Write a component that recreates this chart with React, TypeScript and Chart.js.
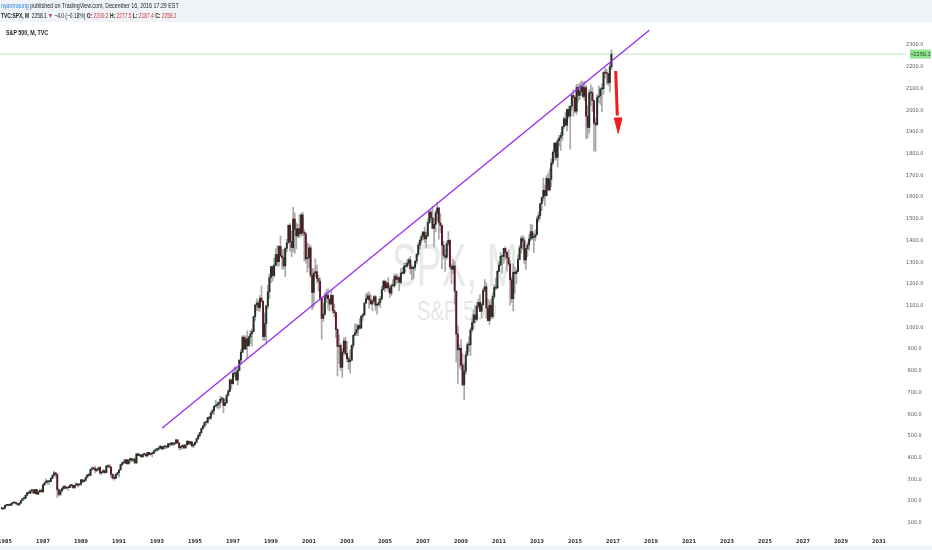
import React, { useEffect, useRef } from "react";
import { Chart, registerables } from "chart.js";

Chart.register(...registerables);

// ---- Data: S&P 500 monthly candles, Nov 1984 .. Dec 2016 ----
const startYear = 1984;
const startMonth = 10; // 0-based: November
const firstOpen = 166.1;

const closes: number[] = [
  163.6, 167.2,
  179.6, 181.2, 180.7, 179.8, 189.6, 191.9, 190.9, 188.6, 182.1, 189.8, 202.2, 211.3,
  211.8, 226.9, 238.9, 235.5, 247.4, 250.8, 236.1, 252.9, 231.3, 244.0, 249.2, 242.2,
  274.1, 284.2, 291.7, 288.4, 290.1, 304.0, 318.7, 329.8, 321.8, 251.8, 230.3, 247.1,
  257.1, 267.8, 258.9, 261.3, 262.2, 273.5, 272.0, 261.5, 271.9, 279.0, 273.7, 277.7,
  297.5, 288.9, 294.9, 309.6, 320.5, 318.0, 346.1, 351.5, 349.2, 340.4, 346.0, 353.4,
  329.1, 331.9, 339.9, 330.8, 361.2, 358.0, 356.2, 322.6, 306.1, 304.0, 322.2, 330.2,
  343.9, 367.1, 375.2, 375.3, 389.8, 371.2, 387.8, 395.4, 387.9, 392.5, 375.2, 417.1,
  408.8, 412.7, 403.7, 415.0, 415.4, 408.1, 424.2, 414.0, 417.8, 418.7, 431.4, 435.7,
  438.8, 443.4, 451.7, 440.2, 450.2, 450.5, 448.1, 463.6, 458.9, 467.8, 461.8, 466.5,
  481.6, 467.1, 445.8, 450.9, 456.5, 444.3, 458.3, 475.5, 462.7, 472.4, 453.7, 459.3,
  470.4, 487.4, 500.7, 514.7, 533.4, 544.8, 562.1, 561.9, 584.4, 581.5, 605.4, 615.9,
  636.0, 640.4, 645.5, 654.2, 669.1, 670.6, 640.0, 652.0, 687.3, 705.3, 757.0, 740.7,
  786.2, 790.8, 757.1, 801.3, 848.3, 885.1, 954.3, 899.5, 947.3, 914.6, 955.4, 970.4,
  980.3, 1049.3, 1101.8, 1111.8, 1090.8, 1133.8, 1120.7, 957.3, 1017.0, 1098.7, 1163.6, 1229.2,
  1279.6, 1238.3, 1286.4, 1335.2, 1301.8, 1372.7, 1328.7, 1320.4, 1282.7, 1362.9, 1389.0, 1469.3,
  1394.5, 1366.4, 1498.6, 1452.4, 1420.6, 1454.6, 1430.8, 1517.7, 1436.5, 1429.4, 1315.2, 1320.3,
  1366.0, 1239.9, 1160.3, 1249.5, 1255.8, 1224.4, 1211.2, 1133.6, 1040.9, 1059.8, 1139.5, 1148.1,
  1130.2, 1106.7, 1147.4, 1076.9, 1067.1, 989.8, 911.6, 916.1, 815.3, 885.8, 936.3, 879.8,
  855.7, 841.2, 848.2, 916.9, 963.6, 974.5, 990.3, 1008.0, 996.0, 1050.7, 1058.2, 1111.9,
  1131.1, 1144.9, 1126.2, 1107.3, 1120.7, 1140.8, 1101.7, 1104.2, 1114.6, 1130.2, 1173.8, 1211.9,
  1181.3, 1203.6, 1180.6, 1156.9, 1191.5, 1191.3, 1234.2, 1220.3, 1228.8, 1207.0, 1249.5, 1248.3,
  1280.1, 1280.7, 1294.9, 1310.6, 1270.1, 1270.2, 1276.7, 1303.8, 1335.9, 1377.9, 1400.6, 1418.3,
  1438.2, 1406.8, 1420.9, 1482.4, 1530.6, 1503.4, 1455.3, 1474.0, 1526.8, 1549.4, 1481.1, 1468.4,
  1378.6, 1330.6, 1322.7, 1385.6, 1400.4, 1280.0, 1267.4, 1282.8, 1166.4, 968.8, 896.2, 903.3,
  825.9, 735.1, 797.9, 872.8, 919.1, 919.3, 987.5, 1020.6, 1057.1, 1036.2, 1095.6, 1115.1,
  1073.9, 1104.5, 1169.4, 1186.7, 1089.4, 1030.7, 1101.6, 1049.3, 1141.2, 1183.3, 1180.6, 1257.6,
  1286.1, 1327.2, 1325.8, 1363.6, 1345.2, 1320.6, 1292.3, 1218.9, 1131.4, 1253.3, 1247.0, 1257.6,
  1312.4, 1365.7, 1408.5, 1397.9, 1310.3, 1362.2, 1379.3, 1406.6, 1440.7, 1412.2, 1416.2, 1426.2,
  1498.1, 1514.7, 1569.2, 1597.6, 1630.7, 1606.3, 1685.7, 1633.0, 1681.6, 1756.5, 1805.8, 1848.4,
  1782.6, 1859.5, 1872.3, 1884.0, 1923.6, 1960.2, 1930.7, 2003.4, 1972.3, 2018.1, 2067.6, 2058.9,
  1995.0, 2104.5, 2067.9, 2085.5, 2107.4, 2063.1, 2103.8, 1972.2, 1920.0, 2079.4, 2080.4, 2043.9,
  1940.2, 1932.2, 2059.7, 2065.3, 2097.0, 2098.9, 2173.6, 2171.0, 2168.3, 2126.2, 2198.8, 2258.1,
];

const highs: number[] = [
  170.4, 168.6,
  180.3, 183.9, 184.1, 183.6, 190.0, 192.5, 197.0, 192.7, 189.1, 190.6, 202.4, 212.0,
  213.0, 228.3, 240.1, 244.7, 249.2, 251.8, 253.2, 254.0, 254.1, 244.0, 254.9, 254.8,
  276.9, 285.5, 301.9, 294.0, 296.2, 309.6, 320.0, 337.9, 330.0, 328.0, 255.8, 252.0,
  262.0, 268.5, 271.1, 263.5, 263.5, 274.0, 274.0, 274.0, 272.5, 283.7, 279.5, 280.4,
  299.5, 300.2, 300.0, 310.5, 323.1, 328.0, 347.0, 357.0, 354.0, 360.4, 347.0, 354.0,
  359.7, 335.6, 344.5, 342.0, 363.0, 368.0, 369.8, 357.0, 324.8, 319.0, 324.1, 330.7,
  344.0, 370.5, 380.1, 390.5, 390.9, 391.0, 391.0, 395.6, 396.4, 395.0, 398.2, 418.3,
  420.8, 417.0, 413.5, 416.0, 421.4, 416.0, 424.8, 425.2, 422.0, 422.0, 431.5, 441.3,
  442.5, 449.6, 456.3, 452.1, 453.3, 453.0, 452.6, 464.2, 463.9, 470.2, 468.6, 471.0,
  482.9, 482.0, 468.0, 453.1, 457.6, 459.3, 459.3, 477.0, 476.0, 473.8, 474.6, 466.1,
  471.4, 489.2, 507.0, 515.1, 533.7, 551.1, 564.0, 565.2, 586.0, 590.6, 608.9, 622.9,
  638.5, 664.2, 656.9, 656.0, 681.1, 679.0, 676.0, 670.8, 690.9, 714.1, 762.3, 762.1,
  794.7, 817.7, 814.9, 812.9, 852.0, 898.7, 961.0, 961.2, 960.5, 983.1, 960.0, 986.3,
  992.7, 1050.7, 1105.7, 1130.5, 1123.1, 1146.1, 1190.6, 1121.0, 1066.1, 1102.0, 1193.0, 1244.9,
  1280.4, 1280.9, 1318.0, 1362.8, 1375.9, 1375.9, 1420.3, 1360.7, 1358.0, 1367.0, 1404.6, 1473.1,
  1478.0, 1444.6, 1552.9, 1527.2, 1481.5, 1474.6, 1517.3, 1525.2, 1530.1, 1448.9, 1438.5, 1389.0,
  1383.4, 1376.4, 1270.0, 1269.3, 1316.0, 1286.6, 1239.8, 1226.3, 1135.5, 1110.6, 1160.3, 1173.0,
  1176.6, 1130.9, 1173.0, 1147.8, 1106.6, 1070.8, 993.6, 965.0, 924.0, 900.7, 951.6, 954.3,
  935.1, 864.6, 895.9, 919.7, 965.4, 1015.3, 1015.4, 1011.0, 1039.6, 1053.8, 1063.7, 1112.6,
  1155.4, 1159.0, 1163.2, 1150.6, 1127.7, 1146.3, 1146.2, 1109.7, 1131.5, 1142.1, 1188.5, 1217.3,
  1217.9, 1212.4, 1229.1, 1191.9, 1199.6, 1219.6, 1245.2, 1245.9, 1243.1, 1233.3, 1270.6, 1275.8,
  1294.9, 1297.6, 1310.9, 1318.2, 1326.7, 1286.1, 1280.4, 1306.7, 1340.3, 1389.5, 1407.9, 1431.8,
  1441.6, 1461.6, 1438.9, 1498.0, 1535.6, 1540.6, 1555.9, 1503.9, 1538.7, 1576.1, 1552.8, 1523.6,
  1471.8, 1396.0, 1359.7, 1397.0, 1440.2, 1404.1, 1292.2, 1313.2, 1303.0, 1167.0, 1007.5, 918.9,
  943.9, 877.9, 833.0, 888.7, 930.2, 956.2, 996.7, 1039.5, 1080.2, 1101.4, 1113.7, 1130.4,
  1150.5, 1112.4, 1180.2, 1219.8, 1205.1, 1131.2, 1121.0, 1129.2, 1157.2, 1196.1, 1227.1, 1262.6,
  1302.7, 1344.1, 1332.3, 1364.6, 1370.6, 1347.0, 1356.5, 1307.4, 1229.3, 1292.7, 1277.6, 1267.1,
  1333.5, 1378.0, 1419.2, 1422.4, 1415.3, 1363.5, 1391.7, 1426.7, 1474.5, 1471.0, 1434.3, 1448.0,
  1509.9, 1530.9, 1570.3, 1598.0, 1687.2, 1654.2, 1698.8, 1709.7, 1729.9, 1775.2, 1813.6, 1849.4,
  1850.8, 1867.9, 1884.0, 1897.3, 1924.0, 1968.2, 1991.4, 2005.0, 2019.3, 2018.2, 2075.8, 2093.6,
  2064.4, 2119.6, 2117.5, 2125.9, 2134.7, 2130.0, 2132.8, 2112.7, 2020.9, 2094.3, 2116.5, 2104.3,
  2046.0, 1963.0, 2072.2, 2111.1, 2103.5, 2120.6, 2177.1, 2193.8, 2187.9, 2169.6, 2214.1, 2277.5,
];

const lows: number[] = [
  162.6, 161.6,
  163.4, 177.3, 176.5, 178.1, 178.4, 185.0, 189.2, 184.5, 180.2, 179.4, 189.2, 200.9,
  203.5, 210.6, 222.6, 232.0, 234.5, 238.6, 233.8, 234.9, 229.9, 231.1, 239.0, 241.2,
  242.2, 271.7, 283.0, 275.6, 277.2, 288.7, 302.4, 314.6, 308.6, 216.5, 223.9, 223.9,
  240.2, 251.2, 256.9, 256.3, 248.9, 261.2, 264.7, 256.7, 257.1, 271.3, 263.6, 269.9,
  272.0, 285.4, 286.3, 292.8, 305.7, 314.8, 317.3, 340.5, 344.4, 330.0, 335.6, 340.6,
  322.0, 322.9, 331.0, 326.4, 329.9, 355.9, 352.0, 307.0, 300.1, 295.5, 303.1, 316.2,
  309.4, 340.9, 361.1, 371.3, 371.8, 370.2, 369.4, 375.8, 381.1, 380.6, 374.6, 371.4,
  407.6, 406.8, 401.1, 400.1, 409.7, 401.9, 404.1, 412.9, 410.5, 402.7, 417.8, 425.0,
  426.9, 431.7, 440.8, 436.2, 437.5, 441.7, 441.0, 446.0, 449.6, 457.6, 454.4, 457.5,
  464.5, 464.3, 436.2, 435.9, 439.8, 442.4, 443.2, 456.7, 460.0, 460.6, 449.1, 444.4,
  457.2, 468.5, 481.0, 494.8, 510.5, 529.0, 540.0, 550.6, 558.1, 573.2, 575.6, 597.3,
  597.3, 632.4, 627.6, 624.1, 630.1, 656.8, 605.9, 639.0, 648.5, 684.0, 703.0, 716.7,
  737.0, 773.4, 756.1, 733.5, 798.8, 829.8, 882.0, 899.0, 898.6, 855.3, 912.8, 924.9,
  912.8, 979.6, 1032.0, 1076.7, 1074.4, 1074.7, 1114.3, 939.9, 939.9, 923.3, 1086.9, 1132.9,
  1205.5, 1211.9, 1232.0, 1282.8, 1281.4, 1281.4, 1325.0, 1268.0, 1268.0, 1233.7, 1348.6, 1387.4,
  1350.1, 1325.1, 1346.6, 1339.4, 1361.1, 1412.9, 1413.9, 1421.0, 1419.4, 1305.8, 1294.9, 1254.1,
  1274.6, 1228.3, 1081.2, 1092.0, 1232.0, 1203.0, 1165.5, 1124.9, 944.8, 1026.8, 1054.3, 1114.3,
  1081.7, 1074.4, 1106.0, 1063.5, 1049.0, 952.9, 775.7, 833.4, 800.6, 768.6, 872.3, 871.8,
  840.3, 806.3, 788.9, 847.9, 902.8, 963.1, 962.1, 960.8, 990.4, 995.3, 1031.2, 1053.4,
  1108.0, 1124.4, 1087.2, 1107.2, 1076.3, 1113.3, 1078.8, 1060.7, 1099.2, 1090.2, 1127.6, 1173.4,
  1163.8, 1180.1, 1163.7, 1137.5, 1146.2, 1188.3, 1183.6, 1201.1, 1205.4, 1168.2, 1201.1, 1246.6,
  1245.7, 1253.6, 1277.6, 1285.0, 1245.3, 1219.3, 1224.5, 1261.3, 1290.9, 1327.1, 1361.0, 1385.9,
  1404.0, 1389.4, 1364.0, 1416.4, 1476.7, 1484.2, 1454.3, 1370.6, 1439.3, 1489.6, 1406.1, 1435.7,
  1270.1, 1316.8, 1257.0, 1312.1, 1373.1, 1272.0, 1200.4, 1247.4, 1106.4, 839.8, 741.0, 815.7,
  804.3, 731.1, 666.8, 783.3, 866.1, 888.9, 869.3, 978.5, 992.0, 1020.2, 1029.4, 1085.9,
  1071.6, 1044.5, 1101.4, 1165.0, 1040.8, 1028.3, 1010.9, 1039.7, 1039.8, 1131.9, 1173.0, 1179.5,
  1256.0, 1284.0, 1249.1, 1294.7, 1311.8, 1258.1, 1282.9, 1101.5, 1114.2, 1074.8, 1158.7, 1202.4,
  1257.6, 1312.0, 1340.0, 1357.4, 1292.0, 1266.7, 1325.4, 1354.6, 1396.6, 1403.3, 1343.4, 1398.1,
  1425.5, 1485.0, 1501.5, 1536.0, 1581.3, 1560.3, 1604.6, 1627.5, 1627.5, 1646.5, 1746.2, 1768.0,
  1770.5, 1737.9, 1834.4, 1814.4, 1859.8, 1916.0, 1930.0, 1904.8, 1964.0, 1820.7, 2001.0, 1972.6,
  1988.1, 1980.9, 2039.7, 2048.4, 2067.9, 2056.3, 2044.0, 1867.0, 1871.9, 1893.7, 2019.4, 1993.3,
  1812.3, 1810.1, 1931.8, 2033.8, 2025.9, 1991.7, 2074.0, 2147.6, 2119.1, 2114.7, 2083.8, 2187.4,
];

const yearTicks: number[] = [1985, 1987, 1989, 1991, 1993, 1995, 1997, 1999, 2001, 2003, 2005, 2007, 2009, 2011, 2013, 2015, 2017, 2019, 2021, 2023, 2025, 2027, 2029, 2031];
const priceTicks: number[] = [100, 200, 300, 400, 500, 600, 700, 800, 900, 1000, 1100, 1200, 1300, 1400, 1500, 1600, 1700, 1800, 1900, 2000, 2100, 2200, 2300];

// drawings (in data coordinates: year, price)
const trendX: number[] = [1993.263, 2018.911];
const trendY: number[] = [534.7, 2367.7];
const lastPrice = 2258.1;
const arrowShaftX: number[] = [2017.142, 2017.226];
const arrowShaftY: number[] = [2180.3, 1975.0];
const arrowHeadX: number[] = [2017.068, 2017.274, 2017.474, 2017.068];
const arrowHeadY: number[] = [1963.8, 1893.3, 1963.8, 1963.8];

// view range
const xMin = 1984.737;
const xMax = 2032.421;
const yMin = 57.2;
const yMax = 2405.9;

const FONT = '"Liberation Sans Narrow", "DejaVu Sans Condensed", "Liberation Sans", Arial, sans-serif';
const UP = "#1f3326";
const DOWN = "#5e1a24";
const WICK = "#a8a8a8";

const candleX = closes.map((_, i) => startYear + (startMonth + i) / 12);
const opens = closes.map((_, i) => (i === 0 ? firstOpen : closes[i - 1]));

const watermarkPlugin = {
  id: "watermark",
  beforeDatasetsDraw(chart: any) {
    const { ctx, chartArea } = chart;
    const cx = (chartArea.left + chartArea.right) / 2;
    ctx.save();
    ctx.textAlign = "center";
    ctx.textBaseline = "alphabetic";
    ctx.fillStyle = "#e9e9e9";
    ctx.font = '62px "Liberation Sans", Arial, sans-serif';
    ctx.translate(cx + 2, 286);
    ctx.scale(0.6, 1);
    ctx.fillText("SPX, M", 0, 0);
    ctx.restore();
    ctx.save();
    ctx.textAlign = "center";
    ctx.fillStyle = "#e6e6e6";
    ctx.font = '27px "Liberation Sans", Arial, sans-serif';
    ctx.translate(cx + 4, 320);
    ctx.scale(0.75, 1);
    ctx.fillText("S&P 500", 0, 0);
    ctx.restore();
  },
};

const priceLabelPlugin = {
  id: "priceLabel",
  afterDraw(chart: any) {
    const { ctx, chartArea } = chart;
    const y = chart.scales.y.getPixelForValue(lastPrice);
    ctx.save();
    ctx.fillStyle = "#8fe48f";
    ctx.fillRect(chartArea.right + 4, y - 4.5, 21, 9);
    ctx.fillStyle = "#1d3d1d";
    ctx.fillRect(chartArea.right + 5, y - 0.4, 2, 0.8);
    ctx.font = '5.5px ' + FONT;
    ctx.textAlign = "center";
    ctx.textBaseline = "middle";
    ctx.fillText(lastPrice.toFixed(1), chartArea.right + 16, y + 0.3);
    ctx.restore();
  },
};

export default function App() {
  const ref = useRef<HTMLCanvasElement>(null);

  useEffect(() => {
    if (!ref.current) return;
    const wickData = closes.map((_, i) => ({ x: candleX[i], y: [lows[i], highs[i]] }));
    const bodyData = closes.map((c, i) => ({ x: candleX[i], y: [opens[i], c] }));
    const bodyColors = closes.map((c, i) => (c >= opens[i] ? UP : DOWN));

    const chart = new Chart(ref.current, {
      type: "bar",
      data: {
        datasets: [
          {
            type: "line",
            data: [
              { x: trendX[0], y: trendY[0] },
              { x: trendX[1], y: trendY[1] },
            ],
            borderColor: "#9b2af0",
            borderWidth: 1.3,
            pointRadius: 0,
            order: -3,
          } as any,
          {
            type: "line",
            data: [
              { x: xMin, y: lastPrice },
              { x: xMax, y: lastPrice },
            ],
            borderColor: "#bfe9bf",
            borderWidth: 1,
            pointRadius: 0,
            order: 5,
          } as any,
          {
            type: "line",
            data: arrowShaftX.map((x, i) => ({ x, y: arrowShaftY[i] })),
            borderColor: "#f01c1c",
            borderWidth: 3,
            pointRadius: 0,
            order: -4,
          } as any,
          {
            type: "line",
            data: arrowHeadX.map((x, i) => ({ x, y: arrowHeadY[i] })),
            borderColor: "#f01c1c",
            backgroundColor: "#f01c1c",
            borderWidth: 1,
            fill: "shape",
            pointRadius: 0,
            order: -4,
          } as any,
          {
            type: "bar",
            data: bodyData,
            backgroundColor: bodyColors,
            barThickness: 1.3,
            minBarLength: 1,
            grouped: false,
            borderWidth: 0,
            order: 1,
          } as any,
          {
            type: "bar",
            data: wickData,
            backgroundColor: WICK,
            barThickness: 1,
            grouped: false,
            borderWidth: 0,
            order: 2,
          } as any,
        ],
      },
      options: {
        responsive: false,
        animation: false,
        events: [],
        layout: { padding: { top: 22, bottom: 4, left: 0, right: 0 } },
        plugins: { legend: { display: false }, tooltip: { enabled: false } },
        scales: {
          x: {
            type: "linear",
            min: xMin,
            max: xMax,
            offset: false,
            grid: { display: false, drawTicks: false },
            border: { display: false },
            afterBuildTicks: (axis: any) => {
              axis.ticks = yearTicks.map((v) => ({ value: v }));
            },
            afterFit: (axis: any) => {
              axis.height = 14;
              axis.paddingLeft = 0;
              axis.paddingRight = 0;
            },
            ticks: {
              autoSkip: false,
              maxRotation: 0,
              padding: 6,
              color: "#333333",
              font: { family: FONT, size: 5.5, weight: "bold" },
              callback: (v: any) => String(v),
            },
          },
          y: {
            type: "linear",
            position: "right",
            min: yMin,
            max: yMax,
            grid: { display: false, drawTicks: false },
            border: { display: false },
            afterBuildTicks: (axis: any) => {
              axis.ticks = priceTicks.map((v) => ({ value: v }));
            },
            afterFit: (axis: any) => {
              axis.width = 26;
              axis.paddingTop = 0;
              axis.paddingBottom = 0;
            },
            ticks: {
              padding: 0,
              crossAlign: "center",
              color: "#555555",
              font: { family: FONT, size: 5.5 },
              callback: (v: any) => Number(v).toFixed(1),
            },
          },
        },
      } as any,
      plugins: [watermarkPlugin, priceLabelPlugin],
    });
    return () => chart.destroy();
  }, []);

  const textBase: React.CSSProperties = {
    position: "absolute",
    left: 1,
    whiteSpace: "nowrap",
    fontFamily: '"Liberation Sans", Arial, sans-serif',
    fontSize: 7,
    lineHeight: "8px",
    color: "#222",
    transform: "scaleX(0.76)",
    transformOrigin: "left top",
  };
  const red = { color: "#d0343c" };

  return (
    <div style={{ position: "absolute", left: 0, top: 0, width: 932, height: 550, background: "#ffffff", overflow: "hidden" }}>
      <div style={{ position: "absolute", left: 0, top: 0, width: 932, height: 22, background: "#f0f3f7" }} />
      <div style={{ position: "absolute", left: 0, top: 546, width: 932, height: 4, background: "#f0f3f7" }} />
      <canvas ref={ref} width={932} height={550} style={{ position: "absolute", left: 0, top: 0 }} />
      <div style={{ ...textBase, top: 2 }}>
        <span style={{ color: "#2a8be0" }}>nyanmaung</span> published on TradingView.com, December 16, 2016 17:29 EST
      </div>
      <div style={{ ...textBase, top: 12, transform: "scaleX(0.7)" }}>
        <b>TVC:SPX, M</b>&nbsp; 2258.1 <span style={red}>▼</span> −4.0 (−0.18%) <b>O:</b> <span style={red}>2200.2</span> <b>H:</b> <span style={red}>2277.5</span> <b>L:</b> <span style={red}>2187.4</span> <b>C:</b> <span style={red}>2258.1</span>
      </div>
      <div style={{ ...textBase, top: 29, left: 6, fontWeight: "bold" }}>S&amp;P 500, M, TVC</div>
    </div>
  );
}
